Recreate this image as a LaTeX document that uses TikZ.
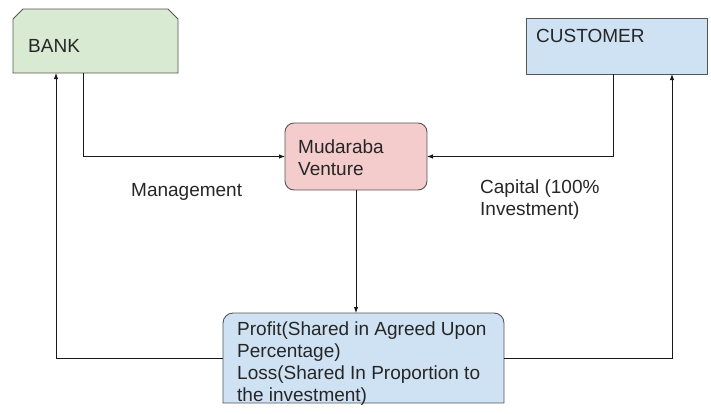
\documentclass[tikz,border=0pt]{standalone}
\usepackage{fontspec}
\setmainfont{Liberation Sans}
\usetikzlibrary{arrows.meta}
\definecolor{bankfill}{HTML}{D9EAD3}
\definecolor{bluefill}{HTML}{CFE2F3}
\definecolor{pinkfill}{HTML}{F4CCCC}
\definecolor{edgegray}{HTML}{555555}
\tikzset{
  anchorbox/.style={minimum width=#1, inner sep=0pt, outer sep=0pt},
  boxline/.style={draw=edgegray, line width=0.9pt},
  lbl/.style={anchor=base west, inner sep=0pt, font=\fontsize{19}{22}\selectfont, text=black!85},
  arr/.style={draw=black!90, line width=0.9pt, -{Latex[length=6pt,width=4.5pt]}},
  plain/.style={draw=black!90, line width=0.9pt},
}
\begin{document}
\begin{tikzpicture}[x=1pt,y=-1pt]
\useasboundingbox (0,0) rectangle (711,413);
% BANK (chamfered top corners)
\node[anchorbox=165pt, minimum height=64pt] (bank) at (95.5,41) {};
\draw[boxline, fill=bankfill] (bank.south west) -- ([yshift=-10pt]bank.north west) -- ([xshift=10pt]bank.north west) -- ([xshift=-10pt]bank.north east) -- ([yshift=-10pt]bank.north east) -- (bank.south east) -- cycle;
\node[lbl] (banktxt) at (28,52) {BANK};
% CUSTOMER
\node[anchorbox=181pt, minimum height=56pt, boxline, fill=bluefill] (cust) at (616.5,46) {};
\node[lbl] (custtxt) at (536,42) {CUSTOMER};
% Mudaraba Venture
\node[anchorbox=142pt, minimum height=67pt, boxline, fill=pinkfill, rounded corners=9pt] (mud) at (356,156.5) {};
\node[lbl] (mud1) at (298,153) {Mudaraba};
\node[lbl] (mud2) at (298,175) {Venture};
% Bottom box (rounded top corners only)
\node[anchorbox=281pt, minimum height=90pt] (bot) at (363.5,358) {};
\draw[boxline, fill=bluefill] (bot.south west) {[rounded corners=10pt] -- (bot.north west) -- (bot.north east)} -- (bot.south east) -- cycle;
\node[lbl] (b1) at (237,335) {Profit(Shared in Agreed Upon};
\node[lbl] (b2) at (237,357) {Percentage)};
\node[lbl] (b3) at (237,379) {Loss(Shared In Proportion to};
\node[lbl] (b4) at (237,401) {the investment)};
% labels
\node[lbl] (mgmt) at (131,196) {Management};
\node[lbl] (cap1) at (480,193) {Capital (100\%};
\node[lbl] (cap2) at (480,215) {Investment)};
% connectors
\draw[arr] ([xshift=-12.5pt]bank.south) |- (mud.west);
\draw[arr] ([xshift=-3.5pt]cust.south) |- (mud.east);
\draw[arr] (mud.south) -- (mud.south |- bot.north);
\draw[arr] (bot.west) -| ([xshift=-39.5pt]bank.south);
\draw[arr] (bot.east) -| ([xshift=55.5pt]cust.south);
\end{tikzpicture}
\end{document}
